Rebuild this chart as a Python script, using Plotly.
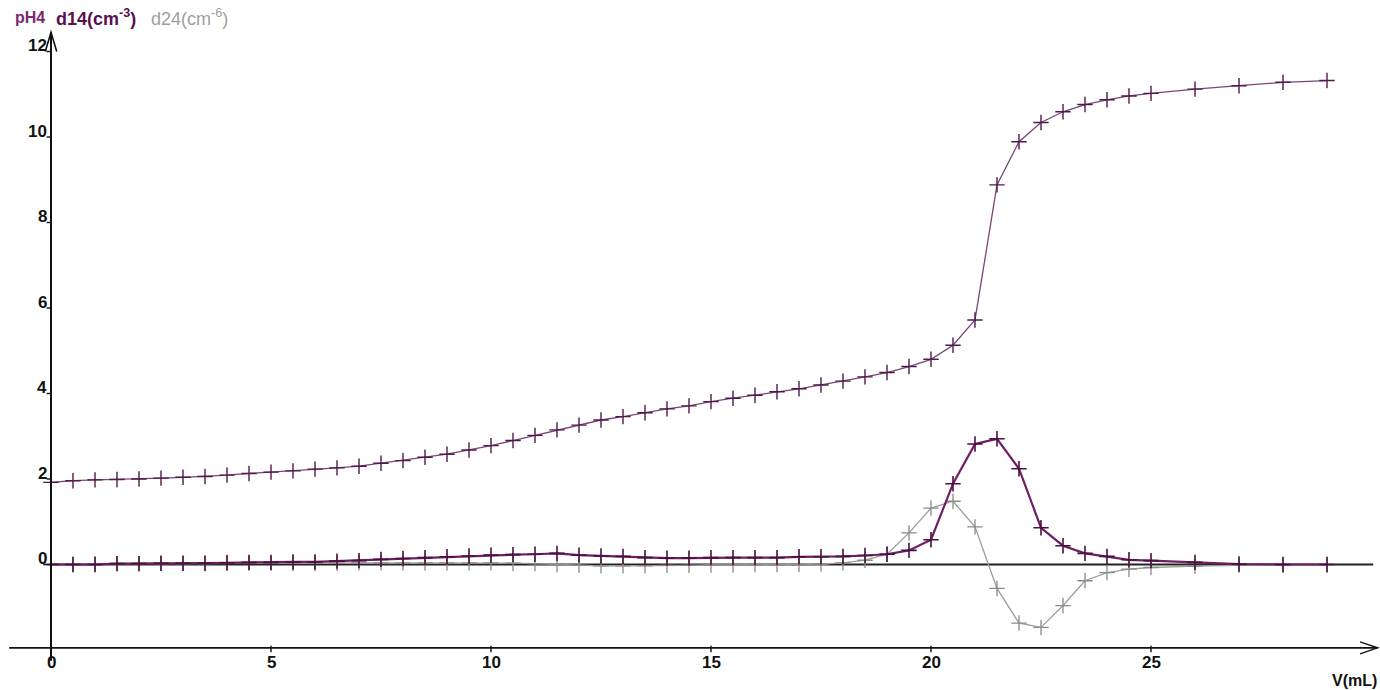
import plotly.graph_objects as go

# ---- data ----
V = [0, 0.5, 1, 1.5, 2, 2.5, 3, 3.5, 4, 4.5, 5, 5.5, 6, 6.5, 7, 7.5, 8, 8.5, 9, 9.5,
     10, 10.5, 11, 11.5, 12, 12.5, 13, 13.5, 14, 14.5, 15, 15.5, 16, 16.5, 17, 17.5,
     18, 18.5, 19, 19.5, 20, 20.5, 21, 21.5, 22, 22.5, 23, 23.5, 24, 24.5, 25,
     26, 27, 28, 29]

pH4 = [1.92, 1.96, 1.98, 1.99, 2.00, 2.02, 2.04, 2.06, 2.09, 2.13, 2.16, 2.19, 2.23, 2.26,
       2.30, 2.37, 2.43, 2.51, 2.58, 2.68, 2.78, 2.90, 3.02, 3.15, 3.26, 3.38, 3.46, 3.55,
       3.64, 3.71, 3.81, 3.89, 3.96, 4.04, 4.11, 4.20, 4.29, 4.39, 4.49, 4.63, 4.80, 5.13,
       5.72, 8.88, 9.89, 10.34, 10.59, 10.76, 10.87, 10.96, 11.02, 11.12, 11.20, 11.28, 11.32]

d14 = [0.00, 0.00, 0.00, 0.02, 0.02, 0.03, 0.03, 0.03, 0.04, 0.05, 0.05, 0.06, 0.06, 0.08,
       0.09, 0.12, 0.14, 0.16, 0.18, 0.20, 0.22, 0.23, 0.24, 0.26, 0.22, 0.20, 0.19, 0.16,
       0.15, 0.15, 0.16, 0.16, 0.16, 0.16, 0.18, 0.18, 0.19, 0.21, 0.24, 0.33, 0.58, 1.89,
       2.82, 2.94, 2.24, 0.86, 0.44, 0.26, 0.19, 0.11, 0.09, 0.05, 0.01, 0.00, 0.00]

d24 = [0.00, 0.00, 0.01, 0.02, 0.02, 0.02, 0.02, 0.02, 0.03, 0.03, 0.03, 0.03, 0.03, 0.03,
       0.04, 0.04, 0.04, 0.04, 0.04, 0.04, 0.04, 0.03, 0.02, 0.00, -0.02, -0.03, -0.03, -0.03,
       -0.02, -0.02, -0.01, -0.01, 0.00, 0.00, 0.00, 0.01, 0.04, 0.10, 0.24, 0.74, 1.32, 1.48,
       0.88, -0.56, -1.37, -1.47, -0.96, -0.38, -0.19, -0.11, -0.07, -0.04, -0.02, -0.02, -0.01]

x_ticks = [0, 5, 10, 15, 20, 25]
x_tick_labels = ["0", "5", "10", "15", "20", "25"]
y_ticks = [0, 2, 4, 6, 8, 10, 12]
y_tick_labels = ["0", "2", "4", "6", "8", "10", "12"]

# ---- styling / geometry ----
X_RANGE = [-51 / 44, (1380 - 51) / 44]
Y_RANGE = [-(690 - 564.5) / 42.75, 564.5 / 42.75]
X_AXIS_Y = -1.95
AXIS_COL = "#111111"
FONT = "Liberation Sans, Arial, sans-serif"

fig = go.Figure()

fig.add_trace(go.Scatter(
    x=V, y=d24, mode="lines+markers", name="d24",
    line=dict(color="#9c9c9c", width=1.3),
    marker=dict(symbol="cross-thin", size=11, line=dict(color="#8a8a8a", width=1.3)),
))
fig.add_trace(go.Scatter(
    x=V, y=d14, mode="lines+markers", name="d14",
    line=dict(color="#6e1f62", width=2.2),
    marker=dict(symbol="cross-thin", size=11, line=dict(color="#4a1040", width=1.6)),
))
fig.add_trace(go.Scatter(
    x=V, y=pH4, mode="lines+markers", name="pH4",
    line=dict(color="#7a4576", width=1.3),
    marker=dict(symbol="cross-thin", size=11, line=dict(color="#4f1a4a", width=1.4)),
))

shapes = []
# zero line
shapes.append(dict(type="line", xref="x", yref="y", x0=0, x1=30.05, y0=0, y1=0,
                   line=dict(color="#222222", width=2), layer="below"))
# y axis
shapes.append(dict(type="line", xref="x", yref="y", x0=0, x1=0, y0=-2.25, y1=12.45,
                   line=dict(color=AXIS_COL, width=2)))
# y-axis arrowhead (open V)
shapes.append(dict(type="path", xref="x", yref="y",
                   path="M -0.13 12.0 L 0 12.45 L 0.13 12.0",
                   line=dict(color=AXIS_COL, width=1.6)))
# x axis
shapes.append(dict(type="line", xref="x", yref="y", x0=-0.95, x1=30.15, y0=X_AXIS_Y, y1=X_AXIS_Y,
                   line=dict(color=AXIS_COL, width=1.6)))
# x-axis arrowhead
shapes.append(dict(type="path", xref="x", yref="y",
                   path=f"M 29.75 {X_AXIS_Y + 0.14} L 30.15 {X_AXIS_Y} L 29.75 {X_AXIS_Y - 0.14}",
                   line=dict(color=AXIS_COL, width=1.4)))
# x ticks
for t in x_ticks:
    shapes.append(dict(type="line", xref="x", yref="y", x0=t, x1=t,
                       y0=X_AXIS_Y - 0.1, y1=X_AXIS_Y + 0.05,
                       line=dict(color=AXIS_COL, width=1.4)))
# y ticks
for t in y_ticks:
    shapes.append(dict(type="line", xref="x", yref="y", x0=-0.1, x1=0, y0=t, y1=t,
                       line=dict(color=AXIS_COL, width=1.4)))

annotations = []
for t, lab in zip(x_ticks, x_tick_labels):
    annotations.append(dict(x=t, y=-2.3, xref="x", yref="y", text=f"<b>{lab}</b>",
                            showarrow=False, xanchor="center", yanchor="middle",
                            font=dict(family=FONT, size=17, color="#111111")))
for t, lab in zip(y_ticks, y_tick_labels):
    annotations.append(dict(x=-0.05, y=t, xref="x", yref="y", text=f"<b>{lab}</b>",
                            showarrow=False, xanchor="right", yanchor="middle", yshift=6,
                            font=dict(family=FONT, size=17, color="#111111")))
annotations.append(dict(x=1379 / 1380, y=1 - 680 / 690, xref="paper", yref="paper",
                        text="<b>V(mL)</b>", showarrow=False, xanchor="right", yanchor="middle",
                        font=dict(family=FONT, size=16, color="#111111")))
# header labels
annotations.append(dict(x=13 / 1380, y=1 - 17 / 690, xref="paper", yref="paper",
                        text="<b>pH4</b>", showarrow=False, xanchor="left", yanchor="middle",
                        font=dict(family=FONT, size=16, color="#7b2a72")))
annotations.append(dict(x=54 / 1380, y=1 - 17 / 690, xref="paper", yref="paper",
                        text="<b>d14(cm<sup>-3</sup>)</b>", showarrow=False, xanchor="left",
                        yanchor="middle",
                        font=dict(family=FONT, size=18, color="#5a0f50")))
annotations.append(dict(x=149 / 1380, y=1 - 17 / 690, xref="paper", yref="paper",
                        text="d24(cm<sup>-6</sup>)", showarrow=False, xanchor="left",
                        yanchor="middle",
                        font=dict(family=FONT, size=18, color="#a0a0a0")))

fig.update_layout(
    width=1380, height=690,
    margin=dict(l=0, r=0, t=0, b=0, pad=0),
    paper_bgcolor="white", plot_bgcolor="white",
    showlegend=False,
    xaxis=dict(range=X_RANGE, visible=False, fixedrange=True),
    yaxis=dict(range=Y_RANGE, visible=False, fixedrange=True),
    shapes=shapes, annotations=annotations,
)

fig.write_html("out.html", config={"displayModeBar": False})
